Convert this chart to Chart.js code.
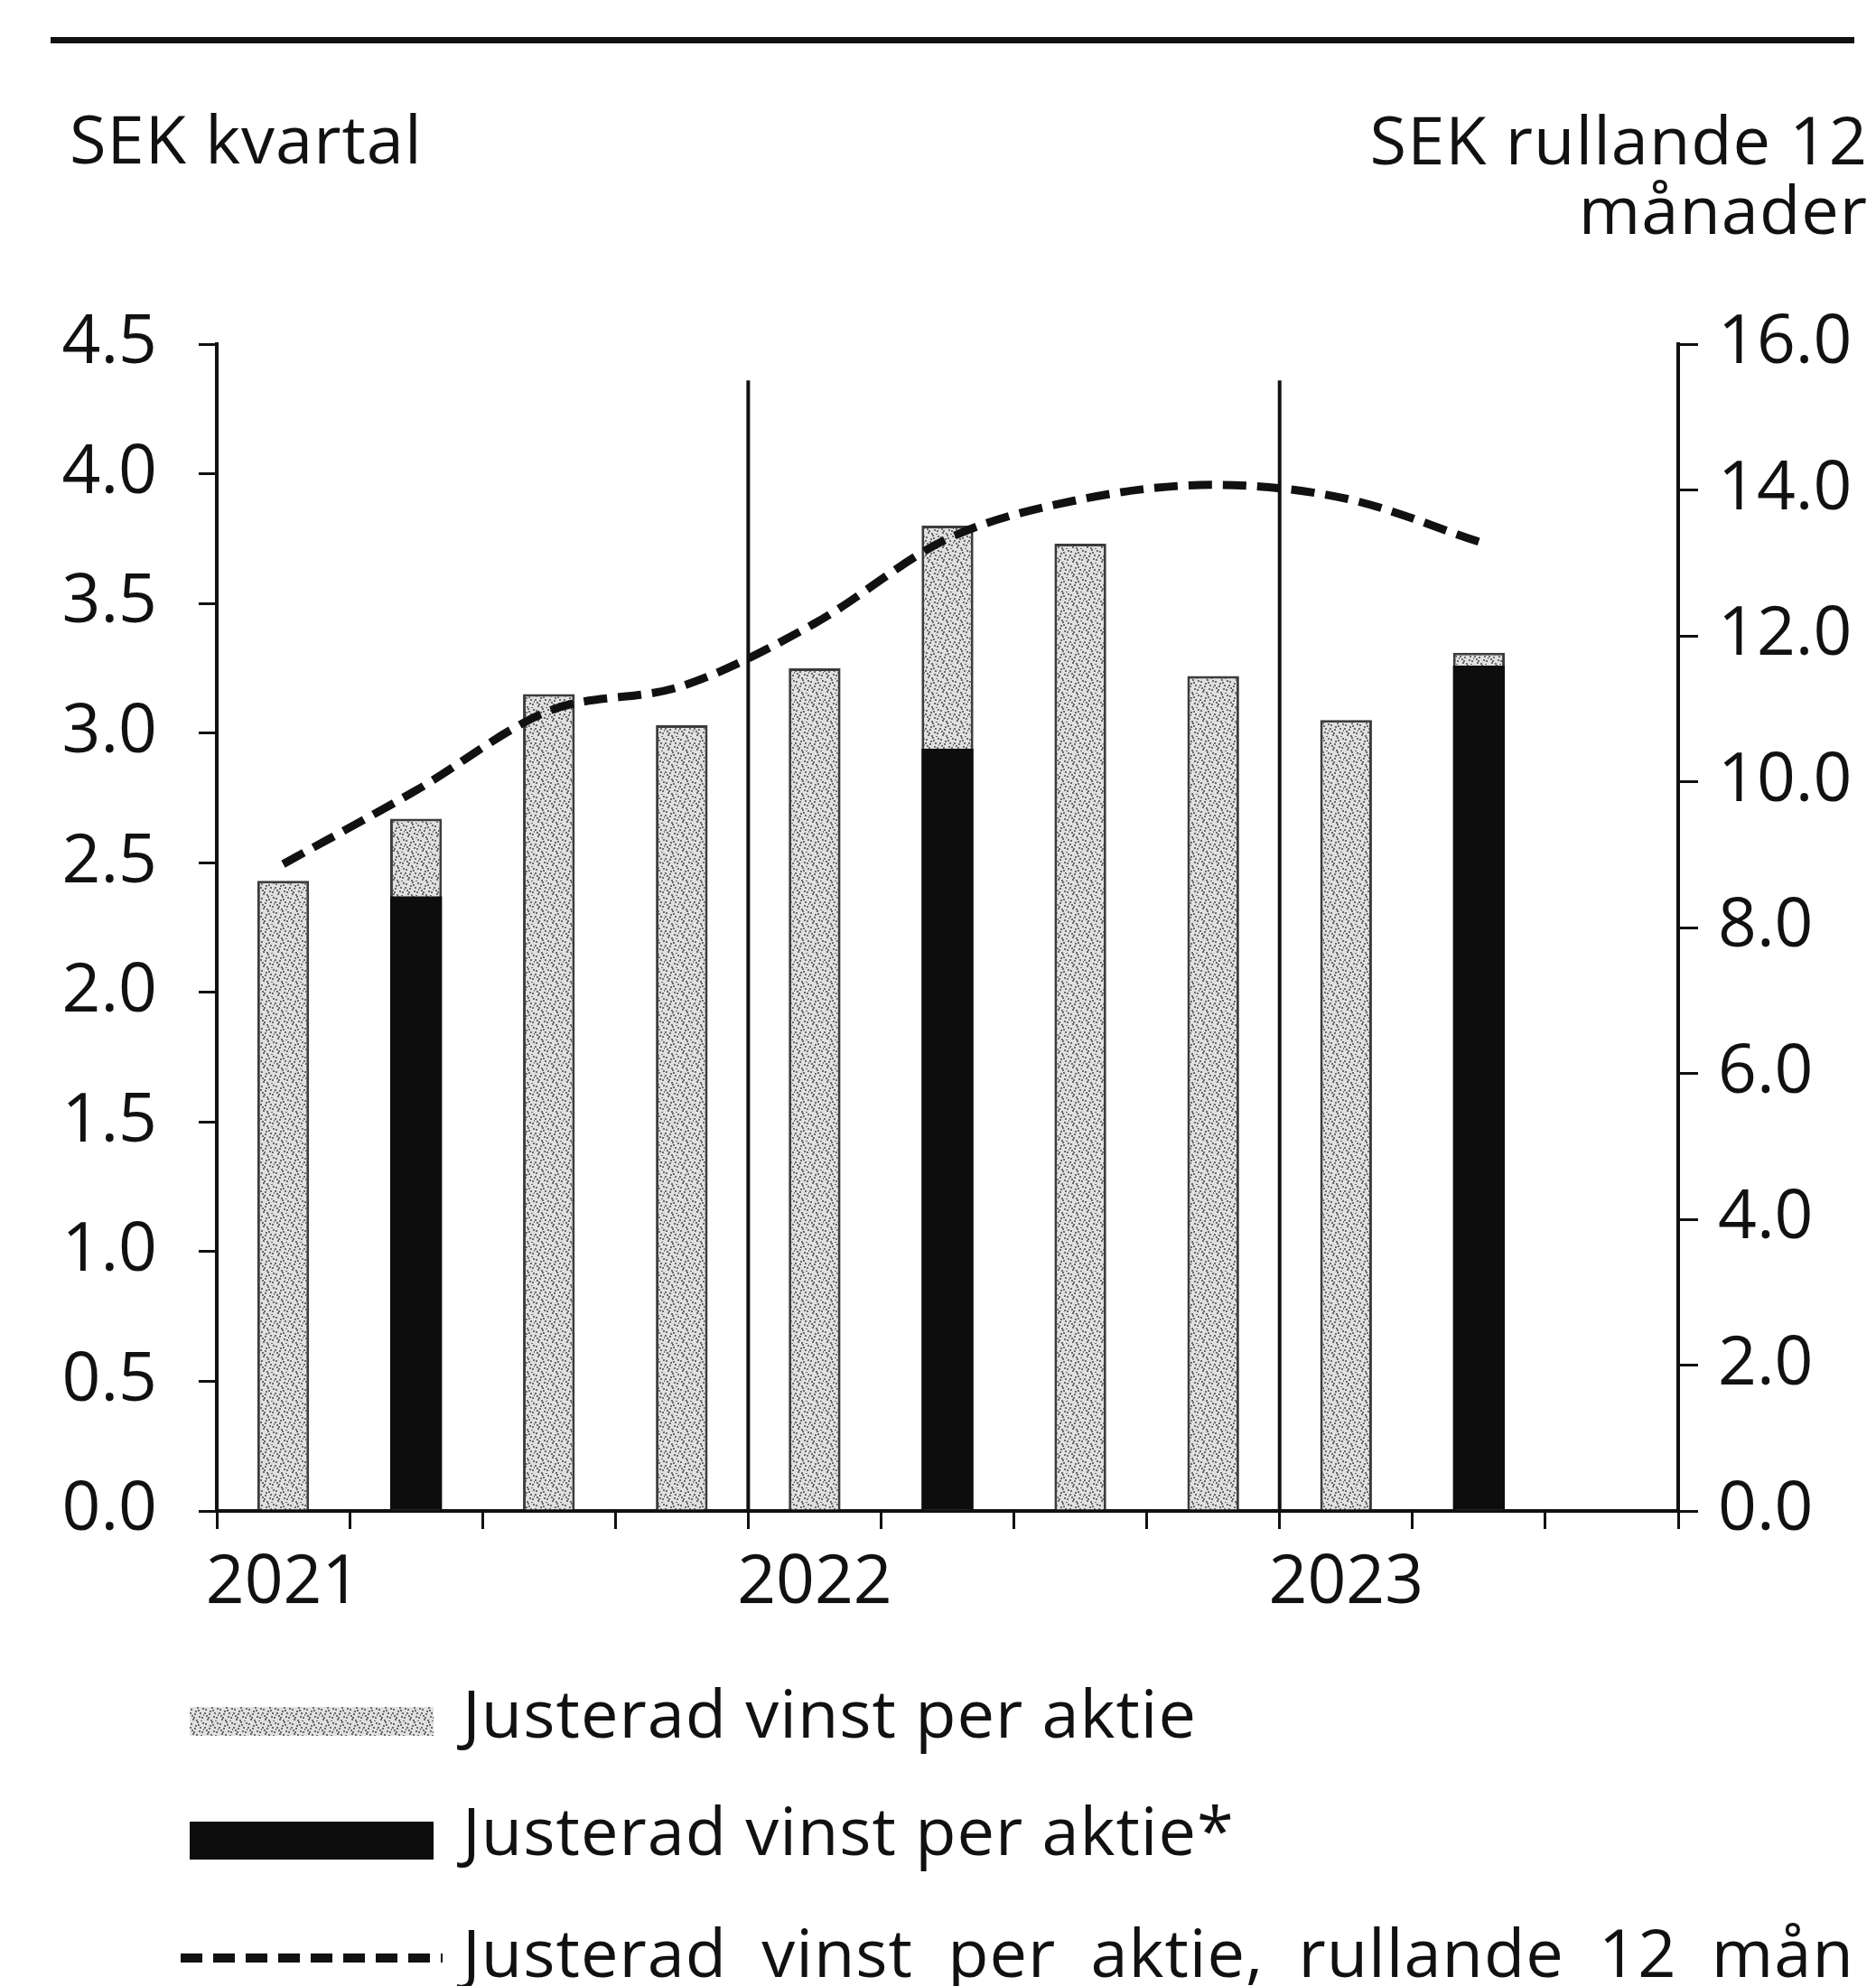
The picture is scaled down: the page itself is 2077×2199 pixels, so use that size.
<!DOCTYPE html>
<html>
<head>
<meta charset="utf-8">
<script src="https://cdn.jsdelivr.net/npm/chart.js@4/dist/chart.umd.min.js"></script>
<style>
  body { margin: 0; background: #fff; width: 2077px; height: 2199px; position: relative; overflow: hidden; font-family: "Open Sans", Roboto, sans-serif; color: #111; }
  .txt { position: absolute; font-size: 74px; line-height: 72px; white-space: nowrap; letter-spacing: 1px; }
  #rule { position: absolute; left: 56px; top: 41px; width: 1997px; height: 7px; background: #111; }
  #chartBox { position: absolute; left: 0; top: 0; width: 2077px; height: 1830px; }
  .sw { position: absolute; }
</style>
</head>
<body>
<div id="rule"></div>
<div class="txt" style="left:77px; top:117px;">SEK kvartal</div>
<div class="txt" style="right:9px; top:115px; line-height:77px; text-align:right;">SEK rullande 12<br>månader</div>

<div id="chartBox"><canvas id="epsChart" width="2077" height="1830"></canvas></div>

<canvas class="sw" id="sw1" width="270" height="32" style="left:210px; top:1890px;"></canvas>
<div class="txt" style="left:512px; top:1860px;">Justerad vinst per aktie</div>
<canvas class="sw" id="sw2" width="270" height="42" style="left:210px; top:2017px;"></canvas>
<div class="txt" style="left:512px; top:1990px;">Justerad vinst per aktie*</div>
<canvas class="sw" id="sw3" width="290" height="20" style="left:200px; top:2158px;"></canvas>
<div class="txt" style="left:512px; top:2125px; word-spacing:18px;">Justerad vinst per aktie, rullande 12 mån</div>

<script>
// kvartal 2021 Q1 .. 2023 Q3 (sista platsen tom)
const quarters = ["2021","","","","2022","","","","2023","",""];
const epsAdj = [2.43, 2.67, 3.15, 3.03, 3.25, 3.80, 3.73, 3.22, 3.05, 3.31, null];
const epsAdjStar = [null, 2.37, null, null, null, 2.94, null, null, null, 3.26, null];
const epsRolling = [8.87, 9.88, 10.97, 11.31, 12.17, 13.33, 13.87, 14.07, 13.88, 13.29, null];
const yearStarts = [4, 8];

const FONT = { family: "'Open Sans', Roboto, sans-serif", size: 75 };

function stipple(){
    const c = document.createElement("canvas");
    c.width = 16; c.height = 16;
    const g = c.getContext("2d");
    g.fillStyle = "#e0e0e0";
    g.fillRect(0,0,16,16);
    g.fillStyle = "#6a6a6a";
    [[1,2],[5,7],[9,3],[13,11],[3,13],[11,6],[7,14],[14,1],[2,9],[10,10],[6,4],[12,15],[0,6],[8,0],[15,8],[4,11]]
    .forEach(d => g.fillRect(d[0], d[1], 2, 2));
    return g.createPattern(c, "repeat");
}

const lightFill = stipple();

// lodräta årsstreck
const yearLines = {
    id: "yearLines",
    beforeDatasetsDraw(chart){
        const x = chart.scales.x;
        const y = chart.scales.y;
        const ctx = chart.ctx;
        ctx.save();
        ctx.strokeStyle = "#111";
        ctx.lineWidth = 4;
        yearStarts.forEach(i => {
            const px = x.getPixelForValue(i - 0.5);
            ctx.beginPath();
            ctx.moveTo(px, y.getPixelForValue(4.36));
            ctx.lineTo(px, y.getPixelForValue(0));
            ctx.stroke();
        });
        ctx.restore();
    }
};

new Chart(document.getElementById("epsChart"), {
    data: {
        labels: quarters,
        datasets: [
            {
                type: "line",
                label: "Justerad vinst per aktie, rullande 12 mån",
                data: epsRolling,
                yAxisID: "y1",
                borderColor: "#111",
                borderWidth: 9,
                borderDash: [26, 12],
                pointRadius: 0,
                cubicInterpolationMode: "monotone",
                order: 0
            },
            {
                type: "bar",
                label: "Justerad vinst per aktie*",
                data: epsAdjStar,
                yAxisID: "y",
                backgroundColor: "#0d0d0d",
                barPercentage: 0.39,
                categoryPercentage: 1,
                order: 1
            },
            {
                type: "bar",
                label: "Justerad vinst per aktie",
                data: epsAdj,
                yAxisID: "y",
                backgroundColor: lightFill,
                borderColor: "#3c3c3c",
                borderWidth: 3,
                borderSkipped: "bottom",
                barPercentage: 0.39,
                categoryPercentage: 1,
                order: 2
            }
        ]
    },
    options: {
        responsive: false,
        animation: false,
        devicePixelRatio: 1,
        layout: { padding: { top: 381, left: 0, right: 0, bottom: 0 } },
        plugins: { legend: { display: false }, tooltip: { enabled: false } },
        scales: {
            x: {
                stacked: true,
                offset: true,
                grid: { offset: true, drawOnChartArea: false, color: "#111", tickLength: 20, lineWidth: 3 },
                border: { display: true, color: "#111", width: 4 },
                ticks: { autoSkip: false, maxRotation: 0, color: "#111", font: FONT, padding: 16 },
                afterFit(s){ s.height = 157; }
            },
            y: {
                position: "left",
                min: 0, max: 4.5,
                grid: { drawOnChartArea: false, color: "#111", tickLength: 20, lineWidth: 3 },
                border: { display: true, color: "#111", width: 4 },
                ticks: { stepSize: 0.5, color: "#111", font: FONT, padding: 46, callback: v => v.toFixed(1) },
                afterFit(s){ s.width = 240; }
            },
            y1: {
                position: "right",
                min: 0, max: 16,
                grid: { drawOnChartArea: false, color: "#111", tickLength: 22, lineWidth: 3 },
                border: { display: true, color: "#111", width: 4 },
                ticks: { stepSize: 2, color: "#111", font: FONT, padding: 22, callback: v => v.toFixed(1) },
                afterFit(s){ s.width = 219; }
            }
        }
    },
    plugins: [yearLines]
});

// teckenförklaring
const g1 = document.getElementById("sw1").getContext("2d");
g1.fillStyle = lightFill;
g1.fillRect(0, 0, 270, 32);
const g2 = document.getElementById("sw2").getContext("2d");
g2.fillStyle = "#0d0d0d";
g2.fillRect(0, 0, 270, 42);
const g3 = document.getElementById("sw3").getContext("2d");
g3.strokeStyle = "#111";
g3.lineWidth = 10;
g3.setLineDash([24, 12]);
g3.beginPath();
g3.moveTo(0, 10);
g3.lineTo(290, 10);
g3.stroke();
</script>
</body>
</html>
